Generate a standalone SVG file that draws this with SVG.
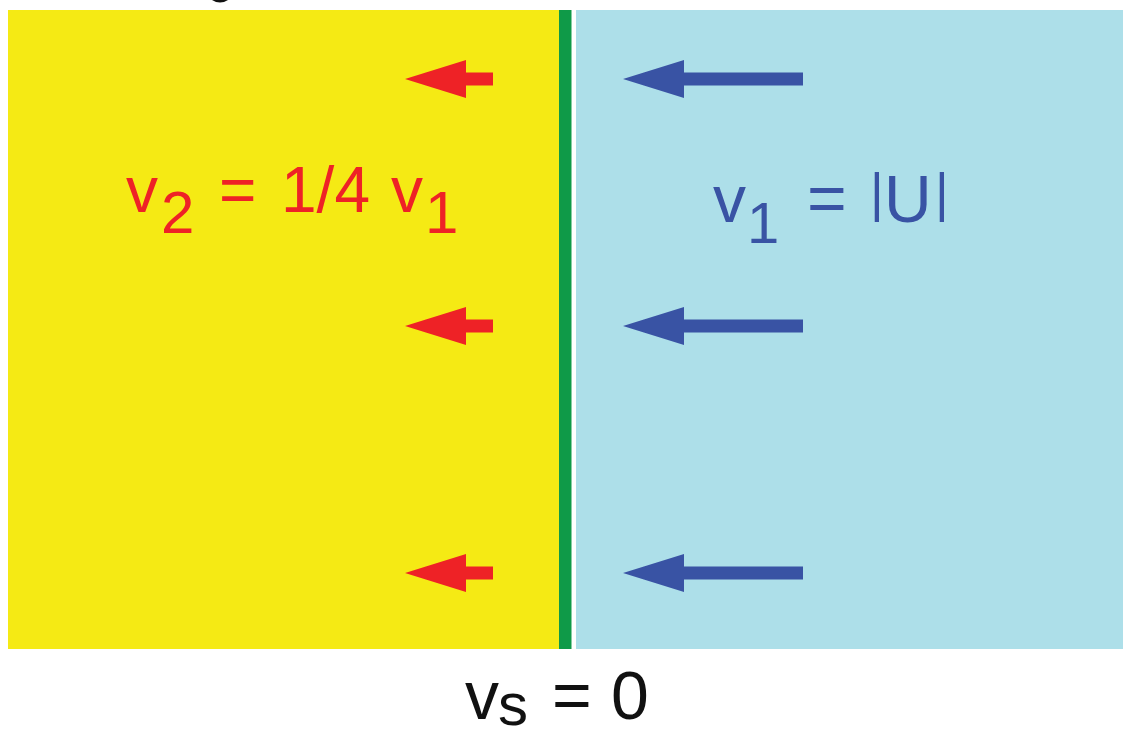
<svg xmlns="http://www.w3.org/2000/svg" width="1123" height="732" viewBox="0 0 1123 732">
<style>
.t{font-family:"Liberation Sans",Arial,sans-serif}
.red{fill:#EE2226}
.blue{fill:#3953A4}
.blk{fill:#111111}
</style>
<defs>
<path id="ra" d="M0,0 L61,-19 L61,-6.5 L88,-6.5 L88,6.5 L61,6.5 L61,19 Z"/>
<path id="ba" d="M0,0 L61,-19 L61,-6.5 L180,-6.5 L180,6.5 L61,6.5 L61,19 Z"/>
</defs>
<rect width="1123" height="732" fill="#ffffff"/>
<path d="M212,0 Q220,5 228,0 Z" fill="#111111"/>
<g id="yellow-region"><rect x="8" y="10" width="551" height="639" fill="#F5EA14"/></g>
<g id="interface"><rect x="559" y="10" width="12.5" height="639" fill="#0F9A48"/></g>
<g id="blue-region"><rect x="576" y="10" width="547" height="639" fill="#ADDFE9"/></g>
<g id="connectors">
<use href="#ra" x="405" y="79" class="red"/>
<use href="#ra" x="405" y="326" class="red"/>
<use href="#ra" x="405" y="573" class="red"/>
<use href="#ba" x="623" y="79" class="blue"/>
<use href="#ba" x="623" y="326" class="blue"/>
<use href="#ba" x="623" y="573" class="blue"/>
</g>
<g id="label-v2">
<text class="t red" y="212" font-size="64"><tspan x="126">v</tspan><tspan x="161" y="233" font-size="60">2</tspan><tspan x="219" y="212">=</tspan><tspan x="281">1/4</tspan><tspan x="391">v</tspan><tspan x="425" y="233" font-size="60">1</tspan></text>
</g>
<g id="label-v1">
<text class="t blue" y="222" font-size="66"><tspan x="713">v</tspan><tspan x="747" y="243" font-size="58">1</tspan><tspan x="807" y="222" font-size="68">=</tspan><tspan x="870" y="211" font-size="53">|</tspan><tspan x="884" y="222">U</tspan><tspan x="935" y="211" font-size="53">|</tspan></text>
</g>
<g id="label-vs">
<text class="t blk" y="719" font-size="68"><tspan x="465">v</tspan><tspan x="498" y="725" font-size="60">s</tspan><tspan x="552" y="719">=</tspan><tspan x="611">0</tspan></text>
</g>
</svg>
